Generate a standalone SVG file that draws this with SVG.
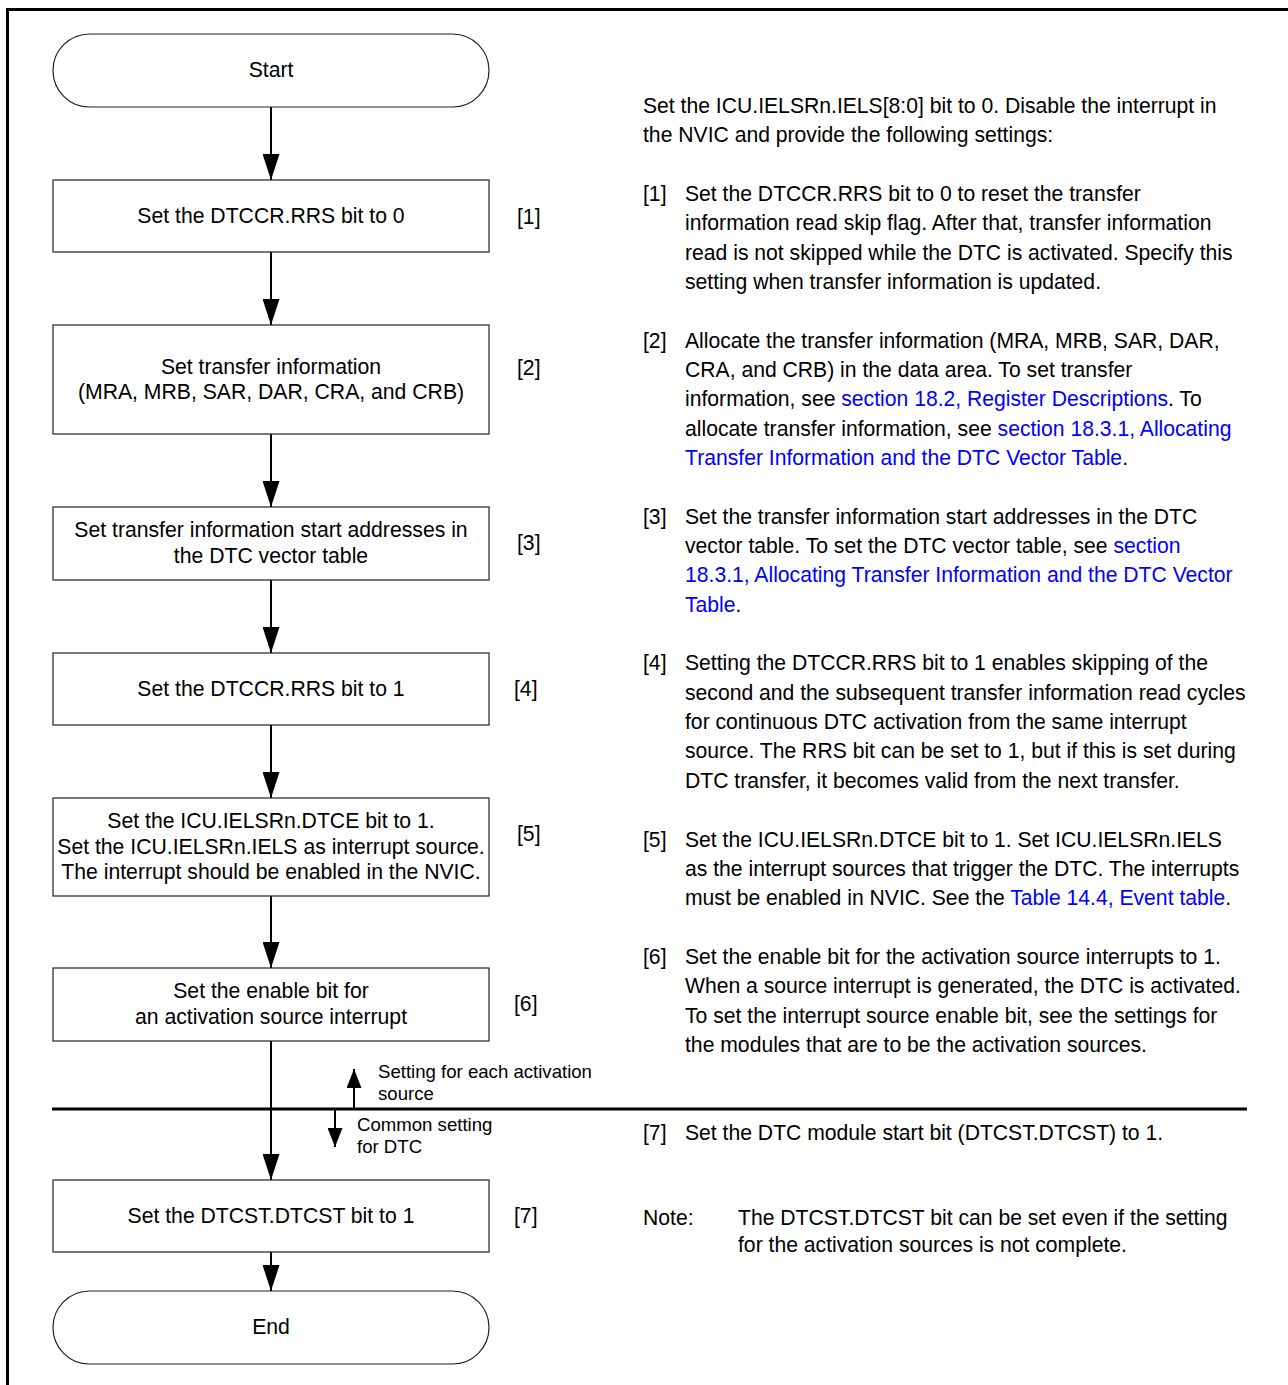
<svg xmlns="http://www.w3.org/2000/svg" width="1288" height="1385" viewBox="0 0 1288 1385">
<defs>
<style>
text{font-family:"Liberation Sans",Arial,sans-serif;fill:#000;}
.b{font-size:21.2px;text-anchor:middle;}
.t{font-size:21.15px;}
.s{font-size:18.6px;}
.lk{fill:#0000ff;}
.node{fill:#fff;stroke:#222;stroke-width:1.2;}
.conn{stroke:#000;stroke-width:2;fill:none;}
.frame{stroke:#000;stroke-width:3;fill:none;}
</style>
<marker id="ah" markerWidth="26" markerHeight="17" refX="26" refY="8.5" orient="auto" markerUnits="userSpaceOnUse" viewBox="0 0 26 17">
<path d="M0,0 L26,8.5 L0,17 Z" fill="#000"/>
</marker>
<marker id="ahs" markerWidth="19" markerHeight="15" refX="19" refY="7.5" orient="auto" markerUnits="userSpaceOnUse" viewBox="0 0 19 15">
<path d="M0,0 L19,7.5 L0,15 Z" fill="#000"/>
</marker>
</defs>
<rect x="0" y="0" width="1288" height="1385" fill="#fff"/>
<path class="frame" d="M7.5,1385 V9.5 H1288"/>
<line class="frame" x1="52" y1="1109" x2="1247" y2="1109"/>

<g id="connectors">
<line class="conn" x1="271" y1="107" x2="271" y2="180" marker-end="url(#ah)"/>
<line class="conn" x1="271" y1="252" x2="271" y2="325" marker-end="url(#ah)"/>
<line class="conn" x1="271" y1="434" x2="271" y2="507" marker-end="url(#ah)"/>
<line class="conn" x1="271" y1="580" x2="271" y2="653" marker-end="url(#ah)"/>
<line class="conn" x1="271" y1="725" x2="271" y2="798" marker-end="url(#ah)"/>
<line class="conn" x1="271" y1="896" x2="271" y2="968" marker-end="url(#ah)"/>
<line class="conn" x1="271" y1="1041" x2="271" y2="1180" marker-end="url(#ah)"/>
<line class="conn" x1="271" y1="1252" x2="271" y2="1291" marker-end="url(#ah)"/>
<line class="conn" x1="354" y1="1108" x2="354" y2="1069" marker-end="url(#ahs)"/>
<line class="conn" x1="335" y1="1110" x2="335" y2="1147" marker-end="url(#ahs)"/>
</g>

<g id="start"><rect class="node" x="53" y="34" width="436" height="73" rx="36.5"/><text class="b" x="271" y="77">Start</text></g>
<g id="step1"><rect class="node" x="53" y="180" width="436" height="72"/><text class="b" x="271" y="223">Set the DTCCR.RRS bit to 0</text><text class="t" x="517" y="224">[1]</text></g>
<g id="step2"><rect class="node" x="53" y="325" width="436" height="109"/><text class="b" x="271" y="374">Set transfer information</text><text class="b" x="271" y="399">(MRA, MRB, SAR, DAR, CRA, and CRB)</text><text class="t" x="517" y="375">[2]</text></g>
<g id="step3"><rect class="node" x="53" y="507" width="436" height="73"/><text class="b" x="271" y="537">Set transfer information start addresses in</text><text class="b" x="271" y="563">the DTC vector table</text><text class="t" x="517" y="550">[3]</text></g>
<g id="step4"><rect class="node" x="53" y="653" width="436" height="72"/><text class="b" x="271" y="696">Set the DTCCR.RRS bit to 1</text><text class="t" x="514" y="696">[4]</text></g>
<g id="step5"><rect class="node" x="53" y="798" width="436" height="98"/><text class="b" x="271" y="828">Set the ICU.IELSRn.DTCE bit to 1.</text><text class="b" x="271" y="854">Set the ICU.IELSRn.IELS as interrupt source.</text><text class="b" x="271" y="879">The interrupt should be enabled in the NVIC.</text><text class="t" x="517" y="841">[5]</text></g>
<g id="step6"><rect class="node" x="53" y="968" width="436" height="73"/><text class="b" x="271" y="998">Set the enable bit for</text><text class="b" x="271" y="1024">an activation source interrupt</text><text class="t" x="514" y="1011">[6]</text></g>
<g id="step7"><rect class="node" x="53" y="1180" width="436" height="72"/><text class="b" x="271" y="1223">Set the DTCST.DTCST bit to 1</text><text class="t" x="514" y="1223">[7]</text></g>
<g id="end"><rect class="node" x="53" y="1291" width="436" height="73" rx="36.5"/><text class="b" x="271" y="1334">End</text></g>

<g id="separator-labels">
<text class="s" x="378" y="1078">Setting for each activation</text>
<text class="s" x="378" y="1100">source</text>
<text class="s" x="357" y="1131">Common setting</text>
<text class="s" x="357" y="1153">for DTC</text>
</g>

<g id="notes">
<text class="t" x="643" y="113">Set the ICU.IELSRn.IELS[8:0] bit to 0. Disable the interrupt in</text>
<text class="t" x="643" y="142">the NVIC and provide the following settings:</text>

<text class="t" x="643" y="201">[1]</text>
<text class="t" x="685" y="201">Set the DTCCR.RRS bit to 0 to reset the transfer</text>
<text class="t" x="685" y="230">information read skip flag. After that, transfer information</text>
<text class="t" x="685" y="260">read is not skipped while the DTC is activated. Specify this</text>
<text class="t" x="685" y="289">setting when transfer information is updated.</text>

<text class="t" x="643" y="348">[2]</text>
<text class="t" x="685" y="348">Allocate the transfer information (MRA, MRB, SAR, DAR,</text>
<text class="t" x="685" y="377">CRA, and CRB) in the data area. To set transfer</text>
<text class="t" x="685" y="406">information, see <tspan class="lk">section 18.2, Register Descriptions</tspan>. To</text>
<text class="t" x="685" y="436">allocate transfer information, see <tspan class="lk">section 18.3.1, Allocating</tspan></text>
<text class="t" x="685" y="465"><tspan class="lk">Transfer Information and the DTC Vector Table</tspan>.</text>

<text class="t" x="643" y="524">[3]</text>
<text class="t" x="685" y="524">Set the transfer information start addresses in the DTC</text>
<text class="t" x="685" y="553">vector table. To set the DTC vector table, see <tspan class="lk">section</tspan></text>
<text class="t lk" x="685" y="582">18.3.1, Allocating Transfer Information and the DTC Vector</text>
<text class="t" x="685" y="612"><tspan class="lk">Table</tspan>.</text>

<text class="t" x="643" y="670">[4]</text>
<text class="t" x="685" y="670">Setting the DTCCR.RRS bit to 1 enables skipping of the</text>
<text class="t" x="685" y="700">second and the subsequent transfer information read cycles</text>
<text class="t" x="685" y="729">for continuous DTC activation from the same interrupt</text>
<text class="t" x="685" y="758">source. The RRS bit can be set to 1, but if this is set during</text>
<text class="t" x="685" y="788">DTC transfer, it becomes valid from the next transfer.</text>

<text class="t" x="643" y="847">[5]</text>
<text class="t" x="685" y="847">Set the ICU.IELSRn.DTCE bit to 1. Set ICU.IELSRn.IELS</text>
<text class="t" x="685" y="876">as the interrupt sources that trigger the DTC. The interrupts</text>
<text class="t" x="685" y="905">must be enabled in NVIC. See the <tspan class="lk">Table 14.4, Event table</tspan>.</text>

<text class="t" x="643" y="964">[6]</text>
<text class="t" x="685" y="964">Set the enable bit for the activation source interrupts to 1.</text>
<text class="t" x="685" y="993">When a source interrupt is generated, the DTC is activated.</text>
<text class="t" x="685" y="1023">To set the interrupt source enable bit, see the settings for</text>
<text class="t" x="685" y="1052">the modules that are to be the activation sources.</text>

<text class="t" x="643" y="1140">[7]</text>
<text class="t" x="685" y="1140">Set the DTC module start bit (DTCST.DTCST) to 1.</text>

<text class="t" x="643" y="1225">Note:</text>
<text class="t" x="738" y="1225">The DTCST.DTCST bit can be set even if the setting</text>
<text class="t" x="738" y="1252">for the activation sources is not complete.</text>
</g>
</svg>
